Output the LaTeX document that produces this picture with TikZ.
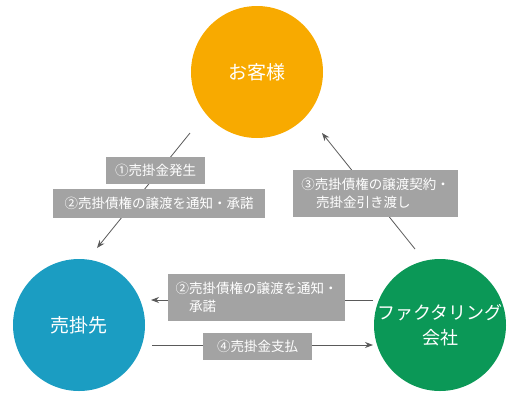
\documentclass[tikz,border=0pt]{standalone}
\usepackage{fontspec}
\setmainfont{Noto Sans CJK JP}
\usetikzlibrary{arrows.meta}

\definecolor{custorange}{HTML}{F8AA00}
\definecolor{sellerblue}{HTML}{1B9DC2}
\definecolor{factorgreen}{HTML}{0B9857}
\definecolor{labelgray}{HTML}{A3A3A3}
\definecolor{flowgray}{HTML}{5A5A5A}

\begin{document}
\begin{tikzpicture}[
  x=1pt, y=-1pt,
  party/.style={circle, minimum size=132pt, inner sep=0pt, text=white, align=center, font=\fontsize{19}{24}\selectfont},
  flow/.style={flowgray, line width=0.8pt, ->, >={Stealth[length=8pt,width=6pt]}},
  flow label/.style={fill=labelgray, text=white, inner sep=0pt, align=left, font=\fontsize{13.5}{18.5}\selectfont}
]
  \useasboundingbox (0,0) rectangle (522,400);

  % The three parties
  \node[party, fill=custorange] (cust) at (257,72) {お客様};
  \node[party, fill=sellerblue] (seller) at (79,325) {売掛先};
  \node[party, fill=factorgreen, font=\fontsize{18}{25}\selectfont] (factor) at (440,325) {ファクタリング\\会社};

  % Free ends of the connectors
  \coordinate (cust sw) at (190,133);
  \coordinate (seller ne) at (97,248);
  \coordinate (factor nw) at (415,249);
  \coordinate (cust se) at (322,133);
  \coordinate (factor w top) at (373,300);
  \coordinate (seller e top) at (151,300);
  \coordinate (seller e low) at (152,345);
  \coordinate (factor w low) at (373,345);

  % Flows between the parties
  \draw[flow] (cust sw) -- (seller ne);
  \draw[flow] (factor nw) -- (cust se);
  \draw[flow] (factor w top) -- (seller e top);
  \draw[flow] (seller e low) -- (factor w low);

  % Labels over the flows
  \node[flow label, minimum width=99pt, minimum height=27pt] (lbl sale) at (155.5,170.5) {①売掛金発生};
  \node[flow label, minimum width=212pt, minimum height=29pt] (lbl notice) at (159,203.5) {②売掛債権の譲渡を通知・承諾};
  \node[flow label, minimum width=165pt, minimum height=47pt] (lbl contract) at (375.5,193.5) {③売掛債権の譲渡契約・\\\hspace*{1.1em}売掛金引き渡し};
  \node[flow label, minimum width=177pt, minimum height=47pt] (lbl notice2) at (256.5,297.5) {②売掛債権の譲渡を通知・\\\hspace*{1em}承諾};
  \node[flow label, minimum width=109pt, minimum height=27pt] (lbl pay) at (257.5,346.5) {④売掛金支払};

\end{tikzpicture}
\end{document}
